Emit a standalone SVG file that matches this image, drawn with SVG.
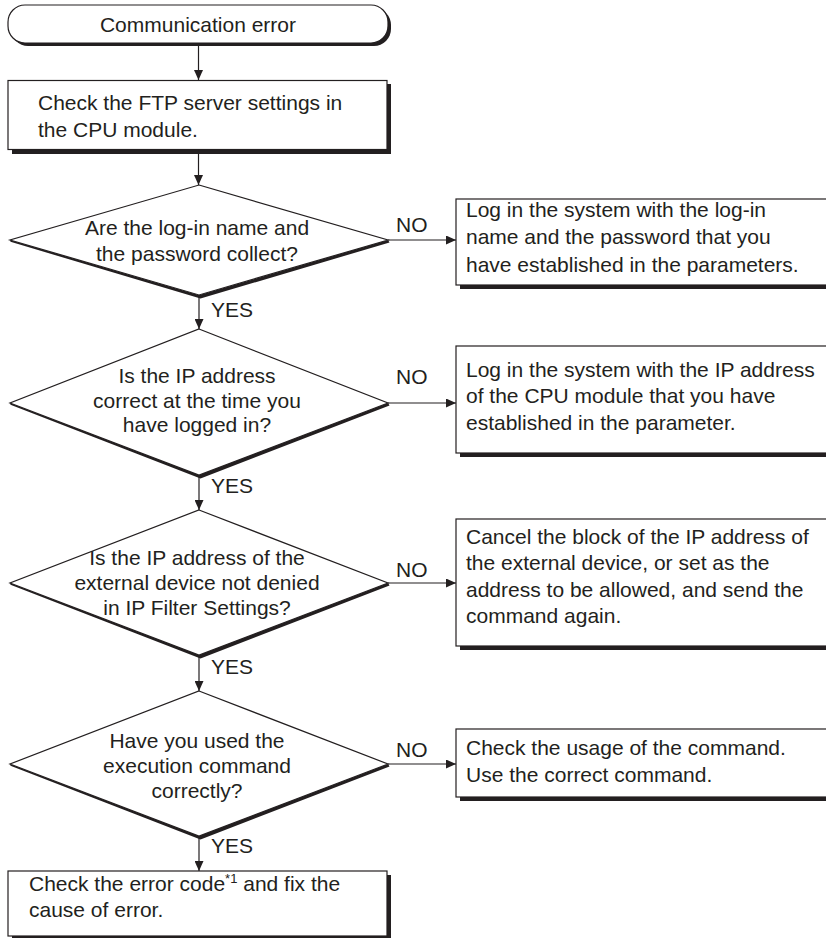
<svg xmlns="http://www.w3.org/2000/svg" width="826" height="938" viewBox="0 0 826 938">
<defs>
<style>
text{font-family:"Liberation Sans",Arial,sans-serif;font-size:21px;fill:#231f20}
.c{text-anchor:middle}
.box{fill:#fff;stroke:#231f20;stroke-width:1.2}
.sh{fill:#231f20;stroke:none}
.ln{stroke:#231f20;stroke-width:1.2;fill:none}
</style>
<marker id="ah" markerUnits="userSpaceOnUse" markerWidth="11" markerHeight="9" refX="10" refY="4.5" orient="auto">
<path d="M0,0 L10,4.5 L0,9 z" fill="#231f20"/>
</marker>
</defs>
<rect width="826" height="938" fill="#fff"/>

<g id="connectors">
<line class="ln" x1="198.5" y1="43" x2="198.5" y2="80" marker-end="url(#ah)"/>
<line class="ln" x1="198.5" y1="153" x2="198.5" y2="185" marker-end="url(#ah)"/>
<line class="ln" x1="199" y1="295" x2="199" y2="329" marker-end="url(#ah)"/>
<line class="ln" x1="388" y1="240" x2="456" y2="240" marker-end="url(#ah)"/>
<line class="ln" x1="199" y1="475" x2="199" y2="510" marker-end="url(#ah)"/>
<line class="ln" x1="388" y1="403" x2="456" y2="403" marker-end="url(#ah)"/>
<line class="ln" x1="199" y1="655" x2="199" y2="691" marker-end="url(#ah)"/>
<line class="ln" x1="388" y1="583" x2="456" y2="583" marker-end="url(#ah)"/>
<line class="ln" x1="199" y1="836" x2="199" y2="871" marker-end="url(#ah)"/>
<line class="ln" x1="388" y1="764" x2="456" y2="764" marker-end="url(#ah)"/>
<text x="211" y="317">YES</text>
<text x="396" y="232">NO</text>
<text x="211" y="493">YES</text>
<text x="396" y="384">NO</text>
<text x="211" y="674">YES</text>
<text x="396" y="577">NO</text>
<text x="211" y="853">YES</text>
<text x="396" y="757">NO</text>
</g>

<g id="start">
<rect class="sh" x="11" y="8" width="380" height="38" rx="17"/>
<rect class="box" x="8" y="5" width="380" height="38" rx="17"/>
<text class="c" x="198" y="32">Communication error</text>
</g>

<g id="check-ftp">
<rect class="sh" x="12" y="84" width="379" height="70"/>
<rect class="box" x="8" y="80.5" width="379" height="69"/>
<text x="38" y="110">Check the FTP server settings in</text>
<text x="38" y="137">the CPU module.</text>
</g>

<g id="q-login">
<polygon class="sh" points="10,240 199,295 388,240 389.5,242.5 200.5,298.5 10.5,241.8"/>
<polygon class="box" points="199,185 388,240 199,295 10,240"/>
<text class="c" x="197" y="235">Are the log-in name and</text>
<text class="c" x="197" y="261">the password collect?</text>
</g>

<g id="fix-login">
<rect class="sh" x="460" y="203" width="380" height="86"/>
<rect class="box" x="456" y="199" width="380" height="86"/>
<text x="466" y="217">Log in the system with the log-in</text>
<text x="466" y="244">name and the password that you</text>
<text x="466" y="272">have established in the parameters.</text>
</g>

<g id="q-ip">
<polygon class="sh" points="10,403 199,475 388,403 389.5,405.5 200.5,478.5 10.5,404.8"/>
<polygon class="box" points="199,329 388,403 199,475 10,403"/>
<text class="c" x="197" y="383">Is the IP address</text>
<text class="c" x="197" y="408">correct at the time you</text>
<text class="c" x="197" y="432">have logged in?</text>
</g>

<g id="fix-ip">
<rect class="sh" x="460" y="350" width="380" height="107"/>
<rect class="box" x="456" y="346" width="380" height="107"/>
<text x="466" y="377">Log in the system with the IP address</text>
<text x="466" y="403">of the CPU module that you have</text>
<text x="466" y="430">established in the parameter.</text>
</g>

<g id="q-filter">
<polygon class="sh" points="10,583 199,655 388,583 389.5,585.5 200.5,658.5 10.5,584.8"/>
<polygon class="box" points="199,510 388,583 199,655 10,583"/>
<text class="c" x="197" y="565">Is the IP address of the</text>
<text class="c" x="197" y="590">external device not denied</text>
<text class="c" x="197" y="615">in IP Filter Settings?</text>
</g>

<g id="fix-filter">
<rect class="sh" x="460" y="523" width="380" height="127"/>
<rect class="box" x="456" y="519" width="380" height="127"/>
<text x="466" y="544">Cancel the block of the IP address of</text>
<text x="466" y="570">the external device, or set as the</text>
<text x="466" y="597">address to be allowed, and send the</text>
<text x="466" y="623">command again.</text>
</g>

<g id="q-command">
<polygon class="sh" points="10,764 199,836 388,764 389.5,766.5 200.5,839.5 10.5,765.8"/>
<polygon class="box" points="199,691 388,764 199,836 10,764"/>
<text class="c" x="197" y="748">Have you used the</text>
<text class="c" x="197" y="773">execution command</text>
<text class="c" x="197" y="798">correctly?</text>
</g>

<g id="fix-command">
<rect class="sh" x="460" y="733" width="380" height="68"/>
<rect class="box" x="456" y="729" width="380" height="68"/>
<text x="466" y="755">Check the usage of the command.</text>
<text x="466" y="782">Use the correct command.</text>
</g>

<g id="check-error">
<rect class="sh" x="12" y="875" width="379" height="70"/>
<rect class="box" x="8" y="871" width="379" height="65"/>
<text x="29" y="891">Check the error code<tspan font-size="13" dy="-8">*1</tspan><tspan dy="8"> and fix the</tspan></text>
<text x="29" y="917">cause of error.</text>
</g>
</svg>
